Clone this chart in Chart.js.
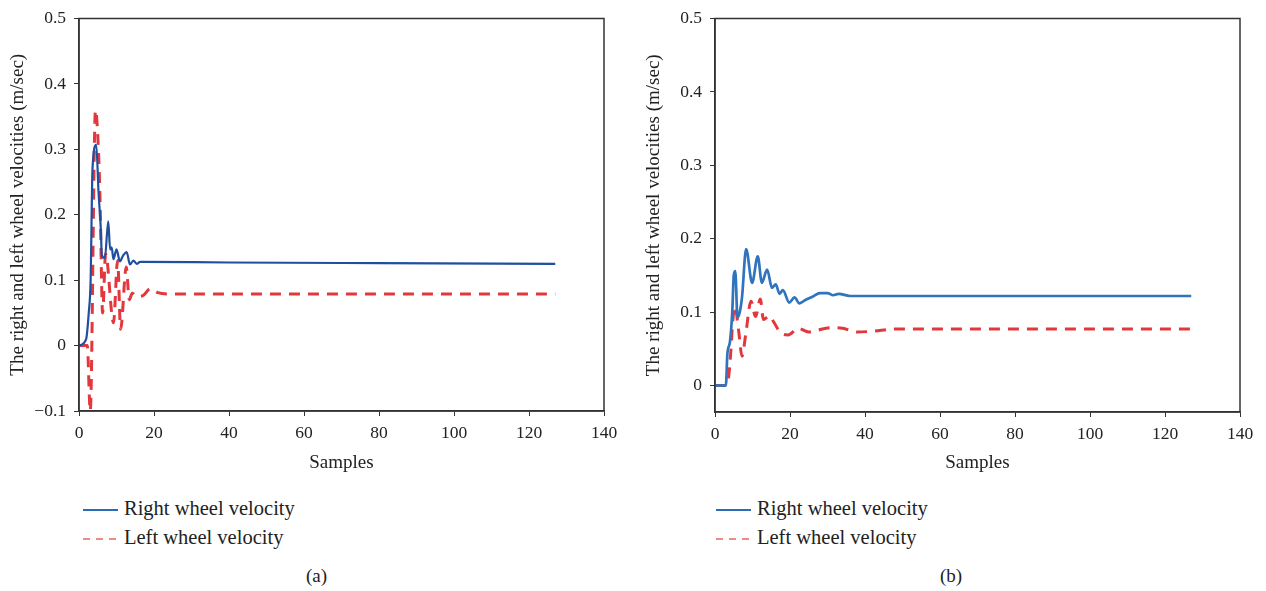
<!DOCTYPE html>
<html>
<head>
<meta charset="utf-8">
<script src="https://cdn.jsdelivr.net/npm/chart.js@4.4.1/dist/chart.umd.min.js"></script>
<style>
  body { margin: 0; background: #fff; width: 1266px; height: 591px; position: relative; overflow: hidden; }
  canvas { position: absolute; top: 0; }
  #chartA { left: 0; }
  #chartB { left: 636px; }
  .legend { position: absolute; font-family: "Liberation Serif", serif; font-size: 20.5px; color: #222; }
  .legend div { height: 29px; line-height: 29px; white-space: nowrap; }
  .legend svg { vertical-align: middle; margin-right: 6px; }
  .caption { position: absolute; top: 565px; font-family: "Liberation Serif", serif; font-size: 19px; color: #222; }
</style>
</head>
<body>
<canvas id="chartA" width="633" height="475"></canvas>
<canvas id="chartB" width="630" height="475"></canvas>

<div class="legend" style="left:83px; top:494px;">
  <div><svg width="35" height="4"><line x1="0" y1="2" x2="35" y2="2" stroke="#2b6cb5" stroke-width="2"/></svg>Right wheel velocity</div>
  <div><svg width="35" height="4"><line x1="0" y1="2" x2="35" y2="2" stroke="#ef8a8a" stroke-width="2" stroke-dasharray="7 6"/></svg>Left wheel velocity</div>
</div>
<div class="legend" style="left:716px; top:494px;">
  <div><svg width="35" height="4"><line x1="0" y1="2" x2="35" y2="2" stroke="#2b6cb5" stroke-width="2"/></svg>Right wheel velocity</div>
  <div><svg width="35" height="4"><line x1="0" y1="2" x2="35" y2="2" stroke="#ef8a8a" stroke-width="2" stroke-dasharray="7 6"/></svg>Left wheel velocity</div>
</div>
<div class="caption" style="left:306px;">(a)</div>
<div class="caption" style="left:940px;">(b)</div>

<script>
// ---- axis ticks ----
var sampleTicks = [0, 20, 40, 60, 80, 100, 120, 140];
var velocityTicksA = [-0.1, 0, 0.1, 0.2, 0.3, 0.4, 0.5];
var velocityTicksB = [0, 0.1, 0.2, 0.3, 0.4, 0.5];

// ---- (a) ----
var samplesRightA = [0, 1.9, 2.6, 3.1, 3.6, 4.6, 5.2, 5.8, 6.1, 6.9, 7.8, 8.3, 8.7, 9.2, 10.0, 10.9, 11.8, 12.7, 13.6, 14.5, 15.4, 16.3, 40, 80, 127];
var rightWheelA = [0, 0.01, 0.05, 0.10, 0.27, 0.307, 0.236, 0.18, 0.138, 0.134, 0.19, 0.147, 0.15, 0.132, 0.147, 0.129, 0.138, 0.143, 0.124, 0.13, 0.125, 0.128, 0.127, 0.126, 0.125];

var samplesLeftA = [0, 2.2, 3.0, 4.4, 5.2, 5.6, 6.3, 7.1, 9.2, 10.3, 11.1, 12.6, 13.4, 14.2, 15.4, 17.2, 19.0, 21.0, 24.0, 127];
var leftWheelA = [0, 0, -0.1, 0.36, 0.297, 0.226, 0.05, 0.14, 0.035, 0.13, 0.025, 0.12, 0.07, 0.08, 0.075, 0.077, 0.087, 0.081, 0.079, 0.079];

// ---- (b) ----
var samplesRightB = [0, 2.9, 3.3, 4.0, 4.6, 5.0, 5.4, 6.0, 6.6, 7.2, 8.3, 9.9, 11.4, 12.5, 13.9, 15.2, 16.2, 17.2, 18.1, 19.8, 21.2, 22.5, 24.2, 26.0, 28.0, 30.0, 31.5, 33.0, 36.0, 80, 127];
var rightWheelB = [0, 0, 0.043, 0.06, 0.1, 0.15, 0.156, 0.093, 0.1, 0.12, 0.186, 0.14, 0.176, 0.14, 0.158, 0.133, 0.138, 0.125, 0.13, 0.113, 0.12, 0.112, 0.117, 0.121, 0.126, 0.126, 0.123, 0.125, 0.122, 0.122, 0.122];

var samplesLeftB = [0, 3.0, 3.6, 4.2, 4.7, 5.3, 6.3, 7.2, 8.2, 9.6, 10.8, 12.1, 12.9, 14.6, 15.5, 17.5, 19.5, 22.2, 25.0, 27.0, 31.0, 34.0, 38.0, 42.0, 48.0, 127];
var leftWheelB = [0, 0, 0.01, 0.045, 0.085, 0.108, 0.075, 0.04, 0.07, 0.115, 0.094, 0.118, 0.09, 0.095, 0.088, 0.072, 0.069, 0.078, 0.073, 0.075, 0.079, 0.078, 0.073, 0.074, 0.077, 0.077];

var serif = '"Liberation Serif", "Times New Roman", serif';
var axisColor = '#333';

function toPoints(xs, ys) {
    return xs.map(function(x, i) { return { x: x, y: ys[i] }; });
}

function formatVelocity(v) {
    if (Math.abs(v) < 1e-9) return '0';
    return (v < 0 ? '\u2212' : '') + Math.abs(v).toFixed(1);
}

// box around the plot area
var frame = {
    id: 'frame',
    afterDatasetsDraw: function(chart) {
        var a = chart.chartArea, ctx = chart.ctx;
        ctx.save();
        ctx.strokeStyle = axisColor;
        ctx.lineWidth = 1.5;
        ctx.strokeRect(a.left, a.top, a.right - a.left, a.bottom - a.top);
        ctx.restore();
    }
};

function makeChart(id, rightPts, leftPts, blue, blueWidth, yMin, yTicks, rightPad, xHeight) {
    var ctx = document.getElementById(id).getContext('2d');
    return new Chart(ctx, {
        type: 'line',
        data: {
            datasets: [{
                label: 'Right wheel velocity',
                data: rightPts,
                borderColor: blue,
                borderWidth: blueWidth,
                pointRadius: 0,
                cubicInterpolationMode: 'monotone'
            }, {
                label: 'Left wheel velocity',
                data: leftPts,
                borderColor: '#e2383d',
                borderWidth: 3,
                borderDash: [11, 8],
                pointRadius: 0,
                cubicInterpolationMode: 'monotone'
            }]
        },
        options: {
            responsive: false,
            animation: false,
            layout: { padding: { top: 17, right: rightPad, bottom: 0, left: 0 } },
            plugins: { legend: { display: false }, tooltip: { enabled: false } },
            scales: {
                x: {
                    type: 'linear',
                    min: 0,
                    max: 140,
                    afterBuildTicks: function(scale) {
                        scale.ticks = sampleTicks.map(function(v) { return { value: v }; });
                    },
                    afterFit: function(scale) { scale.height = xHeight; },
                    grid: { drawOnChartArea: false, drawTicks: true, tickLength: 5, color: axisColor },
                    border: { color: axisColor, width: 1.5 },
                    ticks: { color: '#222', padding: 7, font: { family: serif, size: 17.5 } },
                    title: {
                        display: true,
                        text: 'Samples',
                        color: '#222',
                        padding: { top: 0, bottom: 1 },
                        font: { family: serif, size: 19 }
                    }
                },
                y: {
                    min: yMin,
                    max: 0.5,
                    afterBuildTicks: function(scale) {
                        scale.ticks = yTicks.map(function(v) { return { value: v }; });
                    },
                    afterFit: function(scale) { scale.width = 79; },
                    grid: { drawOnChartArea: false, drawTicks: true, tickLength: 5, color: axisColor },
                    border: { color: axisColor, width: 1.5 },
                    ticks: {
                        color: '#222',
                        padding: 8,
                        font: { family: serif, size: 17.5 },
                        callback: function(v) { return formatVelocity(v); }
                    },
                    title: {
                        display: true,
                        text: 'The right and left wheel velocities (m/sec)',
                        color: '#222',
                        padding: { top: 7, bottom: 0 },
                        font: { family: serif, size: 19 }
                    }
                }
            }
        },
        plugins: [frame]
    });
}

var chartA = makeChart('chartA', toPoints(samplesRightA, rightWheelA), toPoints(samplesLeftA, leftWheelA),
    '#1f4f9e', 2.2, -0.1, velocityTicksA, 29, 64);
var chartB = makeChart('chartB', toPoints(samplesRightB, rightWheelB), toPoints(samplesLeftB, leftWheelB),
    '#2f74bd', 2.7, -0.036, velocityTicksB, 26, 63);
</script>
</body>
</html>
